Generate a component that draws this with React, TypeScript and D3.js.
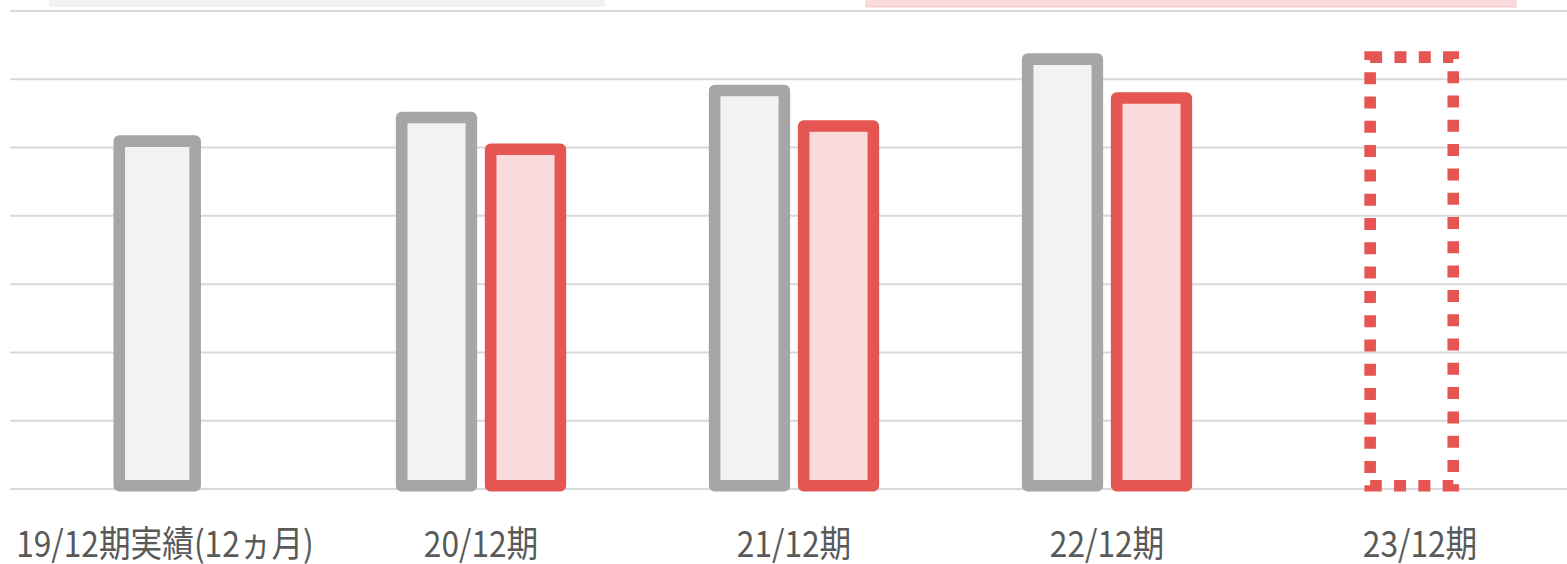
import React from "react";
import * as d3 from "d3";

const categories = ["19/12期実績(12ヵ月)", "20/12期", "21/12期", "22/12期", "23/12期"];
const planValues: (number | null)[] = [51.8, 55.25, 59.2, 63.8, null];
const actualValues: (number | null)[] = [null, 50.6, 54.0, 58.1, null];
const targetValues: (number | null)[] = [null, null, null, null, 64.1];
const gridTicks = [0, 10, 20, 30, 40, 50, 60, 70];

const W = 1567;
const H = 564;
const SW = 11.6;

export default function App() {
  const x = d3.scaleBand<string>().domain(categories).range([11.5, 1576.5]).padding(0);
  const y = d3.scaleLinear().domain([0, 70]).range([489, 11]);
  const sub = d3.scaleBand<string>().domain(["plan", "actual"]).range([-85.15, 85.15]).paddingInner(0.0865).paddingOuter(0);
  const bottomOuter = y(0) + 2.5;

  const bars: { key: string; cx: number; w: number; v: number; kind: string }[] = [];
  categories.forEach((c, i) => {
    const center = (x(c) as number) + x.bandwidth() / 2;
    const p = planValues[i];
    const a = actualValues[i];
    const t = targetValues[i];
    if (p != null && a != null) {
      bars.push({ key: c + "p", cx: center + (sub("plan") as number) + sub.bandwidth() / 2, w: sub.bandwidth(), v: p, kind: "plan" });
      bars.push({ key: c + "a", cx: center + (sub("actual") as number) + sub.bandwidth() / 2, w: sub.bandwidth(), v: a, kind: "actual" });
    } else if (p != null) {
      bars.push({ key: c + "p", cx: center - 10.8, w: 87.5, v: p, kind: "plan" });
    }
    if (t != null) {
      bars.push({ key: c + "t", cx: center - 8.3, w: 94.7, v: t, kind: "target" });
    }
  });

  const styleFor = (k: string) => {
    if (k === "plan") return { fill: "#f2f2f2", stroke: "#a6a6a6" };
    if (k === "actual") return { fill: "#fadbdc", stroke: "#e55552" };
    return { fill: "none", stroke: "#e55552" };
  };

  return (
    <svg width={W} height={H} style={{ position: "absolute", left: 0, top: 0, background: "#ffffff" }}>
      <rect x={49} y={-2} width={556} height={9} fill="#f2f2f2" />
      <rect x={866} y={-2} width={650} height={9} fill="#fadbdc" stroke="#f2c4c6" strokeWidth={0.8} />
      {gridTicks.map((t) => (
        <line key={t} x1={10} x2={W} y1={y(t)} y2={y(t)} stroke="#d9d9d9" strokeWidth={2} />
      ))}
      {bars.map((b) => {
        const s = styleFor(b.kind);
        const top = y(b.v);
        return (
          <rect
            key={b.key}
            x={b.cx - b.w / 2 + SW / 2}
            y={top + SW / 2}
            width={b.w - SW}
            height={bottomOuter - top - SW}
            fill={s.fill}
            stroke={s.stroke}
            strokeWidth={SW}
            strokeLinejoin={b.kind === "target" ? "miter" : "round"}
            strokeDasharray={b.kind === "target" ? "12 12.3" : undefined}
          />
        );
      })}
      {categories.map((c, i) => {
        const cx = (x(c) as number) + x.bandwidth() / 2 - (i === 0 ? 3 : 0);
        return (
          <text
            key={c}
            transform={`translate(${cx},557) scale(0.88,1)`}
            textAnchor="middle"
            fontFamily="'Noto Sans CJK JP', 'Noto Sans', sans-serif"
            fontSize={36}
            fill="#595959"
          >
            {c}
          </text>
        );
      })}
    </svg>
  );
}
